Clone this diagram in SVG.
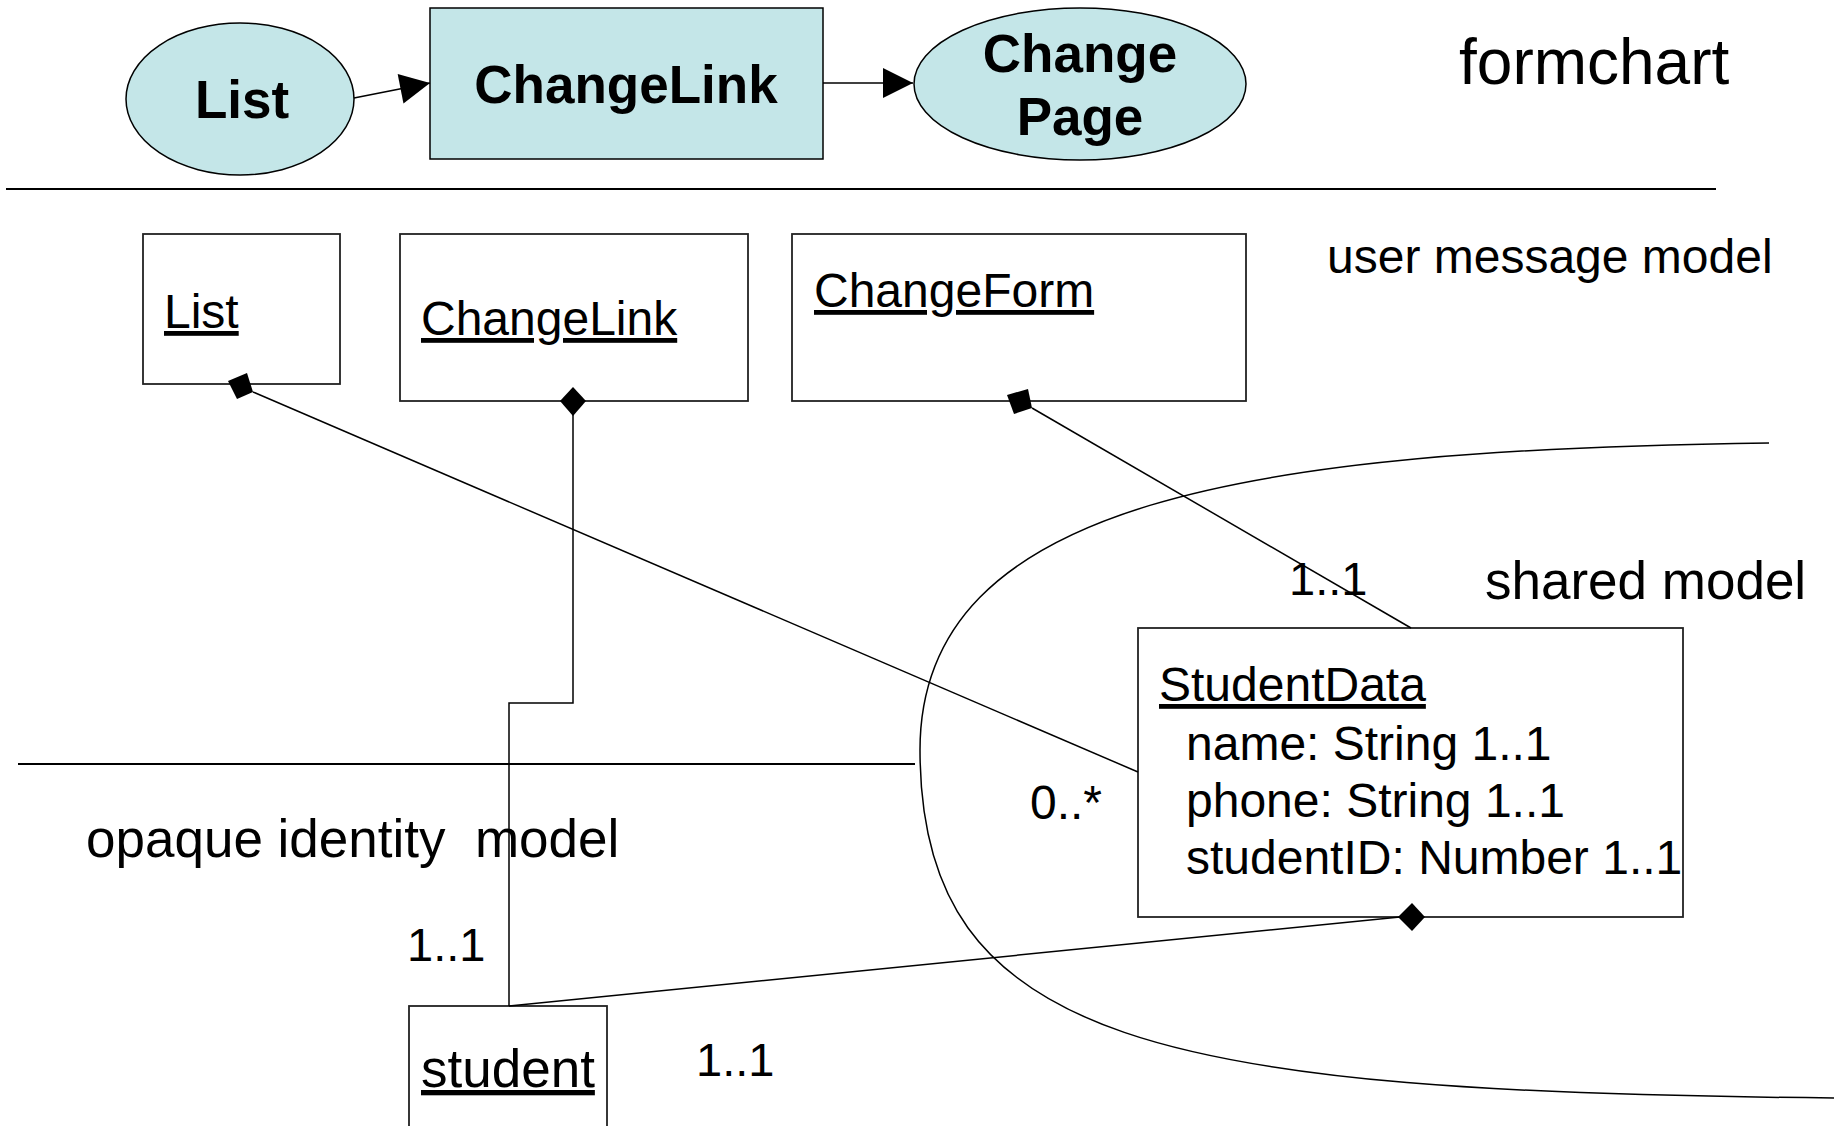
<svg xmlns="http://www.w3.org/2000/svg" width="1838" height="1126" viewBox="0 0 1838 1126">
<style>
.t{font-family:"Liberation Sans",Arial,sans-serif;fill:#000}
.b{font-weight:bold;font-size:53px}
.r{font-size:48px}
.u{text-decoration:underline}
.st{fill:#C4E6E8;stroke:#000;stroke-width:1.5}
.box{fill:#fff;stroke:#222;stroke-width:1.8}
.ln{fill:none;stroke:#000;stroke-width:1.5}
.sep{fill:none;stroke:#000;stroke-width:2.2}
.dia{fill:#000}
</style>
<defs>
<marker id="arr" viewBox="0 0 10 10" refX="10" refY="5" markerWidth="32" markerHeight="30" markerUnits="userSpaceOnUse" orient="auto">
<path d="M0,0 L10,5 L0,10 Z" fill="#000"/>
</marker>
</defs>
<rect width="1838" height="1126" fill="#fff"/>

<g id="fc-list"><ellipse class="st" cx="240" cy="99" rx="114" ry="76"/><text class="t b" x="242" y="118" text-anchor="middle">List</text></g>
<g id="fc-changelink"><rect class="st" x="430" y="8" width="393" height="151"/><text class="t b" x="626" y="103" text-anchor="middle">ChangeLink</text></g>
<g id="fc-changepage"><ellipse class="st" cx="1080" cy="84" rx="166" ry="76"/><text class="t b" x="1080" y="72" text-anchor="middle">Change</text><text class="t b" x="1080" y="135" text-anchor="middle">Page</text></g>
<text class="t" x="1459" y="84" font-size="64">formchart</text>

<g id="separators">
<line class="sep" x1="6" y1="189" x2="1716" y2="189"/>
<line class="sep" x1="18" y1="764" x2="915" y2="764"/>
<path class="ln" d="M1769,443 C1250,450 920,500 920,750 C920,1045 1160,1092 1834,1098"/>
</g>

<g id="um-list"><rect class="box" x="143" y="234" width="197" height="150"/><text class="t r u" x="164" y="328">List</text></g>
<g id="um-changelink"><rect class="box" x="400" y="234" width="348" height="167"/><text class="t r u" x="421" y="335">ChangeLink</text></g>
<g id="um-changeform"><rect class="box" x="792" y="234" width="454" height="167"/><text class="t r u" x="814" y="307">ChangeForm</text></g>
<text class="t r" x="1327" y="273">user message model</text>
<text class="t" x="1485" y="599" font-size="53">shared model</text>

<g id="studentdata"><rect class="box" x="1138" y="628" width="545" height="289"/>
<text class="t r u" x="1159" y="701">StudentData</text>
<text class="t r" x="1186" y="760">name: String 1..1</text>
<text class="t r" x="1186" y="817">phone: String 1..1</text>
<text class="t r" x="1186" y="874">studentID: Number 1..1</text></g>

<text class="t" x="86" y="857" font-size="53" xml:space="preserve">opaque identity  model</text>
<g id="student"><rect class="box" x="409" y="1006" width="198" height="130"/><text class="t u" x="421" y="1087" font-size="53">student</text></g>

<g id="connectors">
<line class="ln" x1="354" y1="98" x2="430" y2="83" marker-end="url(#arr)"/>
<line class="ln" x1="823" y1="83" x2="913" y2="83" marker-end="url(#arr)"/>
<line class="ln" x1="253" y1="392" x2="1138" y2="772"/>
<polygon class="dia" points="228,381 247,373 253,392 237,399"/>
<polyline class="ln" points="573,401 573,703 509,703 509,1006"/>
<polygon class="dia" points="573,387 586,401 573,416 560,401"/>
<line class="ln" x1="1032" y1="408" x2="1411" y2="628"/>
<polygon class="dia" points="1007,395 1028,389 1032,408 1014,414"/>
<line class="ln" x1="509" y1="1006" x2="1400" y2="917"/>
<polygon class="dia" points="1398,917 1412,903 1425,917 1412,931"/>
<text class="t" x="1289" y="595" font-size="47">1..1</text>
<text class="t r" x="1030" y="819">0..*</text>
<text class="t" x="407" y="961" font-size="47">1..1</text>
<text class="t" x="696" y="1076" font-size="47">1..1</text>
</g>
</svg>
